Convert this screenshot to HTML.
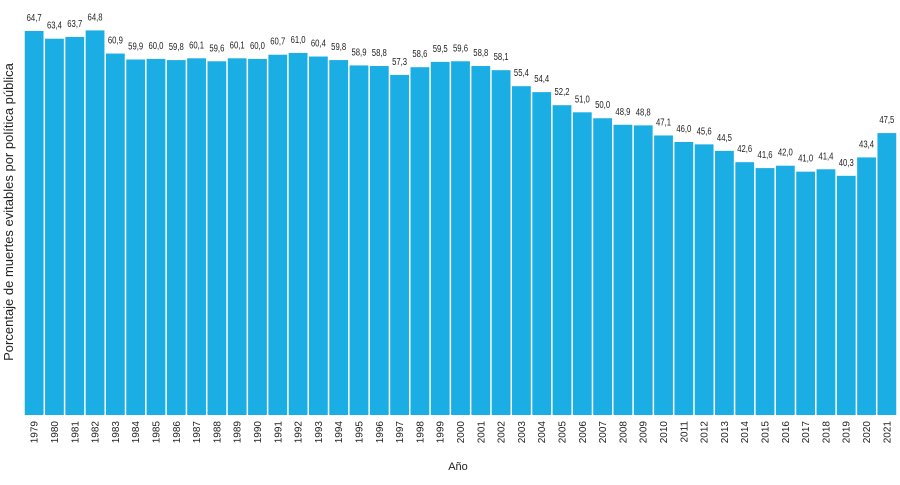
<!DOCTYPE html>
<html><head><meta charset="utf-8"><style>
html,body{margin:0;padding:0;background:#fff;}
svg text{font-family:"Liberation Sans Narrow","Liberation Sans",sans-serif;fill:#222;}
</style></head><body>
<svg width="900" height="480" xmlns="http://www.w3.org/2000/svg">
<g id="bars"></g>
<g id="labels"></g>
<g id="xticks"></g>
<text x="458" y="470" font-size="11" text-anchor="middle">Año</text>
<text transform="translate(13,212) rotate(-90)" font-size="13" text-anchor="middle">Porcentaje de muertes evitables por política pública</text>
</svg>
<script>
const years=[1979,1980,1981,1982,1983,1984,1985,1986,1987,1988,1989,1990,1991,1992,1993,1994,1995,1996,1997,1998,1999,2000,2001,2002,2003,2004,2005,2006,2007,2008,2009,2010,2011,2012,2013,2014,2015,2016,2017,2018,2019,2020,2021];
const values=[64.7,63.4,63.7,64.8,60.9,59.9,60.0,59.8,60.1,59.6,60.1,60.0,60.7,61.0,60.4,59.8,58.9,58.8,57.3,58.6,59.5,59.6,58.8,58.1,55.4,54.4,52.2,51.0,50.0,48.9,48.8,47.1,46.0,45.6,44.5,42.6,41.6,42.0,41.0,41.4,40.3,43.4,47.5];
const NS="http://www.w3.org/2000/svg";
const x0=24,x1=897,yBase=415,yTop=31,vTop=64.7;
const bw=(x1-x0)/years.length;
function xs(i){return x0+i*bw;}
function ys(v){return yBase-(yBase-yTop)*v/vTop;}
const gb=document.getElementById('bars'),gl=document.getElementById('labels'),gt=document.getElementById('xticks');
years.forEach((y,i)=>{
  const v=values[i];
  const r=document.createElementNS(NS,'rect');
  r.setAttribute('x',xs(i)+0.75);r.setAttribute('width',bw-1.5);
  r.setAttribute('y',ys(v));r.setAttribute('height',yBase-ys(v));
  r.setAttribute('fill','#1BAEE4');
  
  
  gb.appendChild(r);
  const t=document.createElementNS(NS,'text');
  t.setAttribute('x',xs(i)+bw/2);t.setAttribute('y',ys(v)-10);
  t.setAttribute('font-size','10');t.setAttribute('text-anchor','middle');
  t.setAttribute('textLength','15');t.setAttribute('lengthAdjust','spacingAndGlyphs');
  t.textContent=v.toFixed(1).replace('.',',');
  
  
  gl.appendChild(t);
  const k=document.createElementNS(NS,'text');
  k.setAttribute('transform','translate('+(xs(i)+bw/2+3.5)+',421) rotate(-90)');
  k.setAttribute('font-size','10');k.setAttribute('text-anchor','end');
  k.textContent=y;
  
  
  gt.appendChild(k);
});
</script>
</body></html>
